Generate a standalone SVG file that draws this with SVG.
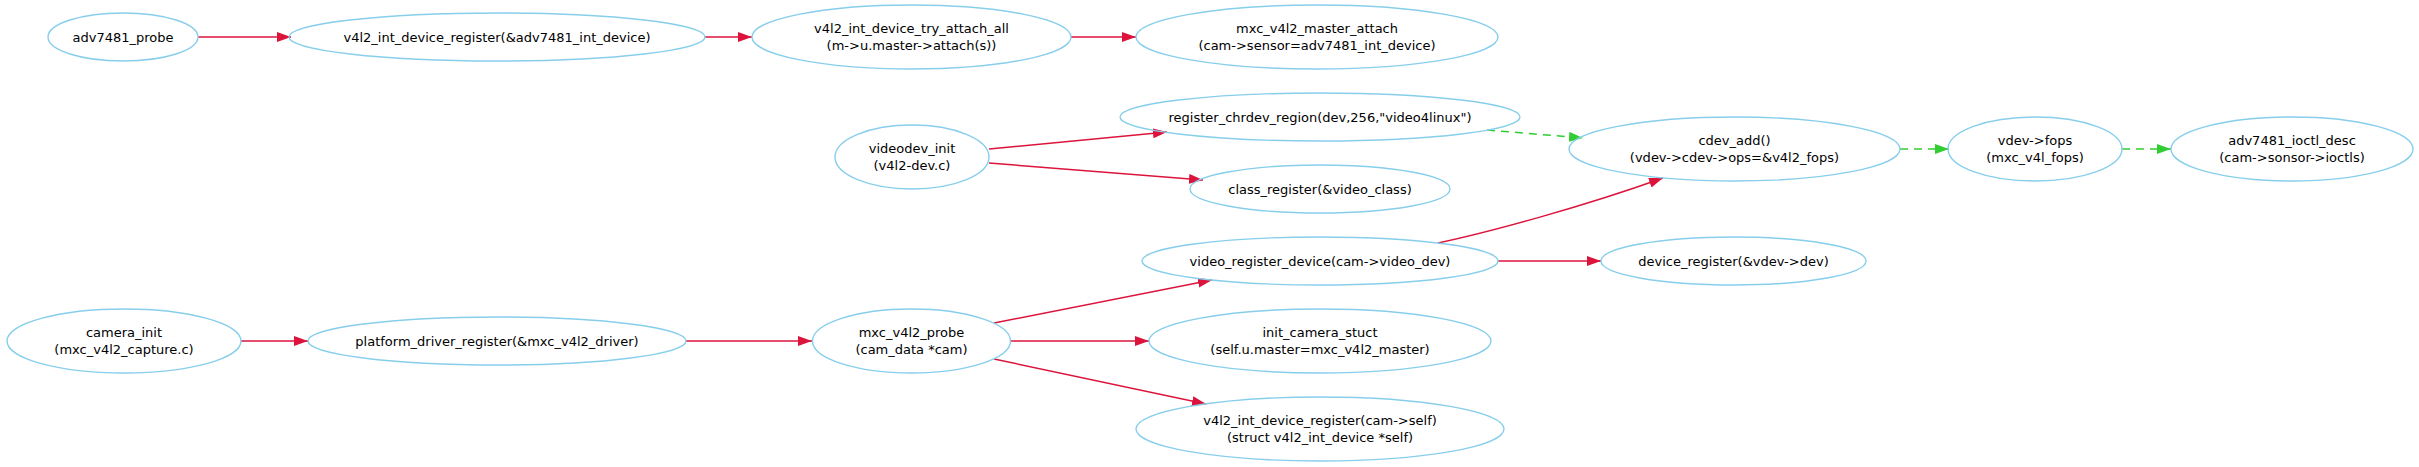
<svg xmlns="http://www.w3.org/2000/svg" width="2419" height="467" viewBox="0 0 2419 467">
<style>
.node ellipse{fill:none;stroke:#87CEEB;stroke-width:1.4}
.node text{font-family:"DejaVu Sans",sans-serif;font-size:13px;fill:#000;text-anchor:middle}
.e{fill:none;stroke:#DC143C;stroke-width:1.5}
.g{fill:none;stroke:#32CD32;stroke-width:1.5;stroke-dasharray:8,6}
</style>
<defs>
<marker id="ar" markerUnits="userSpaceOnUse" markerWidth="15" markerHeight="11" refX="14" refY="5" orient="auto"><path d="M0,0 L14,5 L0,10 z" fill="#DC143C"/></marker>
<marker id="ag" markerUnits="userSpaceOnUse" markerWidth="15" markerHeight="11" refX="14" refY="5" orient="auto"><path d="M0,0 L14,5 L0,10 z" fill="#32CD32"/></marker>
</defs>
<rect width="2419" height="467" fill="#fff"/>
<g id="connectors">
<path class="e" marker-end="url(#ar)" d="M198,37 L291,37"/>
<path class="e" marker-end="url(#ar)" d="M705,37 L752,37"/>
<path class="e" marker-end="url(#ar)" d="M1071,37 L1136,37"/>
<path class="e" marker-end="url(#ar)" d="M989,149 L1167,132"/>
<path class="e" marker-end="url(#ar)" d="M989,163 L1203,180"/>
<path class="g" marker-end="url(#ag)" d="M1487,130 L1583,138"/>
<path class="g" marker-end="url(#ag)" d="M1900,149 L1949,149"/>
<path class="g" marker-end="url(#ag)" d="M2122,149 L2171,149"/>
<path class="e" marker-end="url(#ar)" d="M1438,243 C1490,232 1585,206 1663,178"/>
<path class="e" marker-end="url(#ar)" d="M1498,261 L1601,261"/>
<path class="e" marker-end="url(#ar)" d="M241,341 L308,341"/>
<path class="e" marker-end="url(#ar)" d="M686,341 L812,341"/>
<path class="e" marker-end="url(#ar)" d="M994,323 L1212,280"/>
<path class="e" marker-end="url(#ar)" d="M1011,341 L1149,341"/>
<path class="e" marker-end="url(#ar)" d="M994,359 L1206,404"/>
</g>
<g id="adv7481_probe" class="node"><ellipse cx="123" cy="37" rx="75" ry="24"/><text x="123" y="41.5">adv7481_probe</text></g>
<g id="v4l2_int_device_register_adv" class="node"><ellipse cx="497" cy="37" rx="208" ry="24"/><text x="497" y="41.5">v4l2_int_device_register(&amp;adv7481_int_device)</text></g>
<g id="v4l2_int_device_try_attach_all" class="node"><ellipse cx="911.5" cy="37" rx="159.5" ry="32"/><text x="911.5" y="32.5">v4l2_int_device_try_attach_all</text><text x="911.5" y="49.5">(m-&gt;u.master-&gt;attach(s))</text></g>
<g id="mxc_v4l2_master_attach" class="node"><ellipse cx="1317" cy="37" rx="181" ry="32"/><text x="1317" y="32.5">mxc_v4l2_master_attach</text><text x="1317" y="49.5">(cam-&gt;sensor=adv7481_int_device)</text></g>
<g id="videodev_init" class="node"><ellipse cx="912" cy="157" rx="77" ry="32"/><text x="912" y="152.5">videodev_init</text><text x="912" y="169.5">(v4l2-dev.c)</text></g>
<g id="register_chrdev_region" class="node"><ellipse cx="1320" cy="117" rx="200" ry="24"/><text x="1320" y="121.5">register_chrdev_region(dev,256,"video4linux")</text></g>
<g id="class_register" class="node"><ellipse cx="1320" cy="189" rx="130" ry="24"/><text x="1320" y="193.5">class_register(&amp;video_class)</text></g>
<g id="cdev_add" class="node"><ellipse cx="1734.5" cy="149" rx="165.5" ry="32"/><text x="1734.5" y="144.5">cdev_add()</text><text x="1734.5" y="161.5">(vdev-&gt;cdev-&gt;ops=&amp;v4l2_fops)</text></g>
<g id="vdev_fops" class="node"><ellipse cx="2035" cy="149" rx="87" ry="32"/><text x="2035" y="144.5">vdev-&gt;fops</text><text x="2035" y="161.5">(mxc_v4l_fops)</text></g>
<g id="adv7481_ioctl_desc" class="node"><ellipse cx="2292" cy="149" rx="121" ry="32"/><text x="2292" y="144.5">adv7481_ioctl_desc</text><text x="2292" y="161.5">(cam-&gt;sonsor-&gt;ioctls)</text></g>
<g id="camera_init" class="node"><ellipse cx="124" cy="341" rx="117" ry="32"/><text x="124" y="336.5">camera_init</text><text x="124" y="353.5">(mxc_v4l2_capture.c)</text></g>
<g id="platform_driver_register" class="node"><ellipse cx="497" cy="341" rx="189" ry="24"/><text x="497" y="345.5">platform_driver_register(&amp;mxc_v4l2_driver)</text></g>
<g id="mxc_v4l2_probe" class="node"><ellipse cx="911.5" cy="341" rx="99" ry="32"/><text x="911.5" y="336.5">mxc_v4l2_probe</text><text x="911.5" y="353.5">(cam_data *cam)</text></g>
<g id="video_register_device" class="node"><ellipse cx="1320" cy="261" rx="178" ry="24"/><text x="1320" y="265.5">video_register_device(cam-&gt;video_dev)</text></g>
<g id="device_register" class="node"><ellipse cx="1733.5" cy="261" rx="132.5" ry="24"/><text x="1733.5" y="265.5">device_register(&amp;vdev-&gt;dev)</text></g>
<g id="init_camera_stuct" class="node"><ellipse cx="1320" cy="341" rx="171" ry="32"/><text x="1320" y="336.5">init_camera_stuct</text><text x="1320" y="353.5">(self.u.master=mxc_v4l2_master)</text></g>
<g id="v4l2_int_device_register_self" class="node"><ellipse cx="1320" cy="429" rx="184" ry="32"/><text x="1320" y="424.5">v4l2_int_device_register(cam-&gt;self)</text><text x="1320" y="441.5">(struct v4l2_int_device *self)</text></g>
</svg>
